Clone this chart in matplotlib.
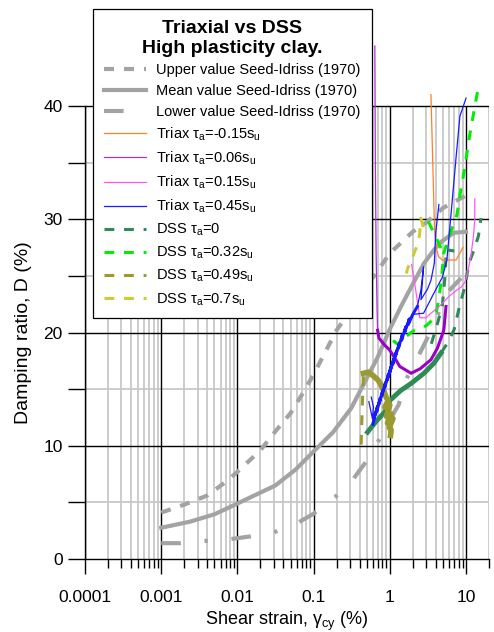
import matplotlib.pyplot as plt
from matplotlib.ticker import FixedLocator, FixedFormatter, LogLocator, NullFormatter

plt.rcParams['font.family'] = ['Liberation Sans', 'DejaVu Sans']
plt.rcParams['mathtext.fontset'] = 'custom'
plt.rcParams['mathtext.rm'] = 'Liberation Sans'
plt.rcParams['mathtext.it'] = 'Liberation Sans:italic'

# Seed-Idriss (1970) band for clay
si_upper_x = [0.001, 0.002, 0.004, 0.007, 0.01, 0.02, 0.03, 0.05, 0.07, 0.1, 0.2, 0.3, 0.5, 0.7, 1.0, 2.0, 3.0, 5.0, 10.0]
si_upper_d = [4.1, 4.8, 5.6, 6.8, 7.7, 9.6, 11.1, 12.9, 14.5, 16.3, 20.2, 21.9, 24.1, 25.5, 27.0, 28.9, 29.7, 31.0, 32.1]
si_mean_x = [0.001, 0.0024, 0.005, 0.01, 0.0316, 0.058, 0.1, 0.18, 0.31, 0.45, 0.69, 1.0, 1.4, 1.9, 2.8, 3.8, 4.7, 6.9, 10.0]
si_mean_d = [2.76, 3.3, 3.95, 4.9, 6.5, 7.9, 9.5, 11.2, 13.3, 15.4, 17.8, 20.3, 22.3, 24.0, 26.1, 27.3, 28.0, 28.8, 28.9]
si_lower_x = [0.001, 0.0018, 0.0038, 0.008, 0.015, 0.03, 0.062, 0.1, 0.19, 0.33, 0.47, 0.69, 1.0, 1.3, 1.65, 2.4, 3.0, 4.2, 5.8, 8.6]
si_lower_d = [1.4, 1.4, 1.6, 1.75, 2.0, 2.35, 3.2, 4.0, 5.45, 7.05, 8.45, 10.3, 12.3, 13.6, 15.9, 18.0, 19.3, 21.5, 23.6, 24.8]

# triaxial tests
tri_m015_x = [3.46, 3.87, 4.05, 4.35, 4.9, 7.4, 9.1]
tri_m015_d = [41.0, 28.8, 27.5, 26.7, 26.4, 26.4, 27.5]

tri_006_x = [0.635, 0.645, 0.66, 0.68, 0.69]
tri_006_d = [45.3, 35.0, 27.0, 22.0, 20.2]
tri_006_loop_x = [0.69, 0.72, 0.85, 0.98, 1.1, 1.35, 1.9, 2.5, 3.46, 4.2, 5.1, 5.45]
tri_006_loop_d = [20.2, 19.5, 18.9, 18.5, 18.0, 17.0, 16.4, 16.8, 17.6, 18.6, 20.2, 22.3]

tri_015_x = [1.93, 2.2, 2.47, 2.98, 3.46, 4.44, 6.0, 7.4, 8.6, 9.6, 10.5, 11.6, 12.5, 13.0, 13.0]
tri_015_d = [26.0, 23.6, 21.3, 21.3, 21.7, 22.3, 23.2, 23.7, 24.0, 24.4, 25.3, 26.8, 28.5, 30.0, 31.8]

tri_045_x = [0.60, 0.64, 0.62, 0.69, 0.67, 0.75, 0.72, 0.81, 0.78, 0.88, 0.85, 0.96, 0.92, 1.04, 1.0,
             1.13, 1.09, 1.23, 1.18, 1.34, 1.29, 1.46, 1.42, 1.62, 1.56, 1.8, 1.74, 2.0, 2.3]
tri_045_d = [11.9, 12.9, 12.4, 13.5, 13.0, 14.2, 13.7, 14.9, 14.4, 15.6, 15.1, 16.3, 15.8, 17.0, 16.5,
             17.7, 17.2, 18.4, 17.9, 19.1, 18.6, 19.8, 19.3, 20.5, 20.0, 21.2, 20.7, 21.6, 22.3]
tri_045_b_x = [2.3, 2.56, 2.77, 2.56, 2.9, 3.1, 3.46, 3.83, 4.0, 4.4]
tri_045_b_d = [22.3, 23.8, 25.8, 22.9, 23.5, 23.8, 24.6, 26.1, 28.8, 31.3]
tri_045_c_x = [2.0, 2.77, 3.8, 4.9, 5.6, 6.3, 7.4, 8.3, 10.0]
tri_045_c_d = [21.6, 21.7, 23.5, 24.9, 26.4, 30.2, 35.5, 39.1, 40.7]
tri_045_v_x = [0.53, 0.59, 0.61, 0.57]
tri_045_v_d = [13.9, 12.4, 13.4, 14.3]

# DSS tests
dss_0_band_x = [0.51, 0.65, 0.86, 1.0, 1.4, 1.9, 2.8, 3.8, 4.7]
dss_0_band_d = [11.2, 12.1, 13.0, 14.0, 14.9, 15.5, 16.4, 17.3, 18.2]
dss_0_x = [4.7, 6.0, 7.0, 8.0, 9.4, 10.1, 10.9, 12.4, 14.5, 15.7]
dss_0_d = [18.2, 19.3, 20.3, 22.0, 23.8, 24.8, 26.1, 27.1, 28.5, 30.1]
dss_0_in_x = [3.5, 4.3, 4.9, 5.3, 5.5, 7.0]
dss_0_in_d = [19.0, 21.0, 22.5, 25.0, 27.3, 27.2]

dss_032_x = [1.1, 1.3, 1.6, 1.9, 2.1, 2.6, 3.0, 3.6, 4.0, 4.4, 4.8, 5.1, 6.0, 7.6, 8.3, 9.6, 11.0, 12.9, 14.8]
dss_032_d = [19.3, 18.9, 19.6, 20.0, 20.2, 20.4, 20.6, 21.1, 21.5, 23.0, 25.0, 27.0, 28.5, 30.4, 32.1, 34.5, 37.2, 39.8, 42.0]
dss_032_b_x = [3.2, 4.1, 5.1]
dss_032_b_d = [29.8, 28.3, 26.9]

dss_049_x = [0.42, 0.43, 0.44, 0.45]
dss_049_d = [10.1, 12.5, 14.5, 16.4]
dss_049_blob_x = [0.45, 0.52, 0.6, 0.7, 0.76, 0.84, 0.89, 0.95, 0.86, 1.0, 0.9, 1.05, 0.93, 1.1, 0.98, 1.04, 1.02]
dss_049_blob_d = [16.4, 16.5, 16.2, 15.8, 15.4, 14.8, 14.3, 14.0, 13.4, 13.6, 12.6, 12.8, 12.0, 12.4, 11.6, 11.4, 10.9]

dss_07_x = [2.75, 2.55, 2.45, 2.3, 2.1, 1.95, 1.8, 1.7, 1.65]
dss_07_d = [29.3, 30.1, 28.6, 27.7, 27.1, 26.4, 26.0, 25.6, 25.2]

x_ticks = [0.0001, 0.001, 0.01, 0.1, 1, 10]
x_tick_labels = ['0.0001', '0.001', '0.01', '0.1', '1', '10']
y_ticks = [0, 10, 20, 30, 40]

GRAY = '#a3a3a3'
ORANGE = '#ff7f27'
PURPLE = '#a633db'
PURPLE_DARK = '#9a00c8'
PINK = '#ff55ff'
BLUE = '#1a1aff'
SEAGREEN = '#2e8b57'
LIME = '#00ee00'
OLIVE = '#9a9a2e'
YELLOW = '#cccc33'

fig = plt.figure(figsize=(4.94, 6.32), dpi=100)
ax = fig.add_axes([0.1721, 0.1155, 0.8178, 0.8243])
ax.set_xscale('log')
ax.set_xlim(1e-4, 20)
ax.set_ylim(0, 46)

# grid only up to D = 40
for k in range(-4, 2):
    for m in range(1, 10):
        xv = m * 10.0 ** k
        if xv > 20:
            break
        if m == 1:
            ax.vlines(xv, 0, 40, color='black', lw=1.0, zorder=1)
        else:
            ax.vlines(xv, 0, 40, color='#c8c8c8', lw=1.3, zorder=0.9)
for yv in range(5, 41, 5):
    if yv % 10 == 0:
        ax.hlines(yv, 1e-4, 20, color='black', lw=1.0, zorder=1)
    else:
        ax.hlines(yv, 1e-4, 20, color='#c8c8c8', lw=1.3, zorder=0.9)

up, = ax.plot(si_upper_x, si_upper_d, color=GRAY, lw=3, ls=(0, (2.4, 2.4)),
              label='Upper value Seed-Idriss (1970)', zorder=2)
mean, = ax.plot(si_mean_x, si_mean_d, color=GRAY, lw=3, ls='-',
                label='Mean value Seed-Idriss (1970)', zorder=2)
low, = ax.plot(si_lower_x, si_lower_d, color=GRAY, lw=3, ls=(0, (4.7, 5.7, 0.8, 5.7)),
               label='Lower value Seed-Idriss (1970)', zorder=2)

dss_kw = dict(lw=2.2, ls=(0, (3.2, 3.2)), zorder=3)
d0, = ax.plot(dss_0_x, dss_0_d, color=SEAGREEN, label=r'DSS $\mathregular{\tau_a}$=0', **dss_kw)
ax.plot(dss_0_band_x, dss_0_band_d, color=SEAGREEN, lw=3.5, zorder=3)
ax.plot(dss_0_in_x, dss_0_in_d, color=SEAGREEN, **dss_kw)
d1, = ax.plot(dss_032_x, dss_032_d, color=LIME, label=r'DSS $\mathregular{\tau_a}$=0.32$\mathregular{s_u}$', **dss_kw)
ax.plot(dss_032_b_x, dss_032_b_d, color=LIME, **dss_kw)
d2, = ax.plot(dss_049_x, dss_049_d, color=OLIVE, label=r'DSS $\mathregular{\tau_a}$=0.49$\mathregular{s_u}$', **dss_kw)
ax.plot(dss_049_blob_x, dss_049_blob_d, color=OLIVE, lw=4, zorder=3)
d3, = ax.plot(dss_07_x, dss_07_d, color=YELLOW, label=r'DSS $\mathregular{\tau_a}$=0.7$\mathregular{s_u}$', **dss_kw)

t0, = ax.plot(tri_m015_x, tri_m015_d, color=ORANGE, lw=0.9, zorder=4,
              label=r'Triax $\mathregular{\tau_a}$=-0.15$\mathregular{s_u}$')
t1, = ax.plot(tri_006_x, tri_006_d, color=PURPLE, lw=0.9, zorder=4,
              label=r'Triax $\mathregular{\tau_a}$=0.06$\mathregular{s_u}$')
ax.plot(tri_006_loop_x, tri_006_loop_d, color=PURPLE_DARK, lw=2.2, zorder=4)
t2, = ax.plot(tri_015_x, tri_015_d, color=PINK, lw=0.9, zorder=4,
              label=r'Triax $\mathregular{\tau_a}$=0.15$\mathregular{s_u}$')
t3, = ax.plot(tri_045_c_x, tri_045_c_d, color=BLUE, lw=0.9, zorder=4,
              label=r'Triax $\mathregular{\tau_a}$=0.45$\mathregular{s_u}$')
ax.plot(tri_045_x, tri_045_d, color=BLUE, lw=2.2, zorder=4)
ax.plot(tri_045_b_x, tri_045_b_d, color=BLUE, lw=0.9, zorder=4)
ax.plot(tri_045_v_x, tri_045_v_d, color=BLUE, lw=0.9, zorder=4)

# axes styling
for side in ['top', 'right']:
    ax.spines[side].set_visible(False)
ax.spines['left'].set_bounds(0, 40)
ax.spines['left'].set_linewidth(1.0)
ax.spines['bottom'].set_linewidth(1.0)

ax.xaxis.set_major_locator(FixedLocator(x_ticks))
ax.xaxis.set_major_formatter(FixedFormatter(x_tick_labels))
ax.xaxis.set_minor_locator(LogLocator(base=10, subs=range(2, 10), numticks=20))
ax.xaxis.set_minor_formatter(NullFormatter())
ax.set_yticks(y_ticks)
ax.set_yticks([5, 15, 25, 35], minor=True)
ax.tick_params(axis='x', which='major', length=11, width=1.0, pad=11, labelsize=12.5)
ax.tick_params(axis='x', which='minor', length=6.5, width=1.0)
ax.tick_params(axis='y', which='both', length=12, width=1.0, pad=4, labelsize=12.5)

ax.set_xlabel(r'Shear strain, $\mathregular{\gamma_{cy}}$ (%)', fontsize=13, labelpad=4)
ax.set_ylabel('Damping ratio, D (%)', fontsize=14)
ax.yaxis.set_label_coords(-0.13, 20 / 46)

handles = [up, mean, low, t0, t1, t2, t3, d0, d1, d2, d3]
leg = ax.legend(handles=handles, loc='upper left', bbox_to_anchor=(0.0198, 1.0557),
                title='Triaxial vs DSS\nHigh plasticity clay.',
                title_fontproperties={'weight': 'bold', 'size': 14},
                fontsize=10.5, frameon=True, fancybox=False, framealpha=1,
                edgecolor='black', handlelength=2.9, handletextpad=0.7,
                labelspacing=0.46, borderaxespad=0, borderpad=0.75)
leg.get_frame().set_linewidth(0.9)
leg.get_title().set_multialignment('center')
leg.get_title().set_linespacing(1.2)
leg.set_zorder(10)

fig.savefig('out.png', dpi=100)
